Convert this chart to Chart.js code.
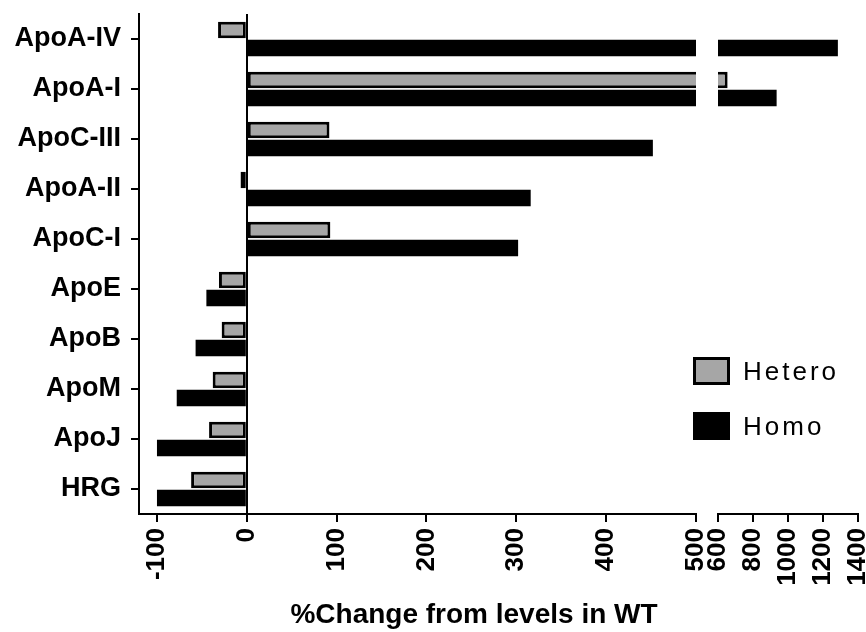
<!DOCTYPE html>
<html>
<head>
<meta charset="utf-8">
<script src="https://cdn.jsdelivr.net/npm/chart.js@4/dist/chart.umd.min.js"></script>
<style>
    body { margin: 0; background: #fff; }
    #wrap { position: relative; width: 866px; height: 632px; overflow: hidden; font-family: "Liberation Sans", Arial, sans-serif; }
    #wrap canvas { position: absolute; left: 0; top: 0; }
    #xTitle { position: absolute; left: 174px; width: 600px; top: 600px; text-align: center; font-size: 28px; line-height: 28px; font-weight: bold; }
    #legend { position: absolute; left: 693px; top: 357px; }
    .leg-item { display: flex; align-items: center; height: 28px; margin-bottom: 27px; }
    .leg-box { width: 37px; height: 28px; box-sizing: border-box; border: 3px solid #000; }
    .leg-text { margin-left: 13px; font-size: 26px; line-height: 26px; letter-spacing: 3px; }
</style>
</head>
<body>
<div id="wrap">
    <canvas id="chartLeft" width="866" height="632"></canvas>
    <canvas id="chartRight" width="866" height="632"></canvas>
    <div id="xTitle">%Change from levels in WT</div>
    <div id="legend"></div>
</div>
<script>
const categories = ['ApoA-IV', 'ApoA-I', 'ApoC-III', 'ApoA-II', 'ApoC-I', 'ApoE', 'ApoB', 'ApoM', 'ApoJ', 'HRG'];
const heteroValues = [-32, 655, 92, -7, 93, -31, -28, -38, -42, -62];
const homoValues = [1285, 935, 452, 316, 302, -45, -57, -78, -100, -100];
const leftTicks = [-100, 0, 100, 200, 300, 400, 500];
const rightTicks = [600, 800, 1000, 1200, 1400];

Chart.defaults.font.family = "'Liberation Sans', Arial, sans-serif";
Chart.defaults.color = '#000';
Chart.defaults.animation = false;

function makeDatasets(pick) {
    return [
        { label: 'Hetero', data: pick(heteroValues), backgroundColor: '#a6a6a6', borderColor: '#000', borderWidth: 3, borderSkipped: false, clip: 0 },
        { label: 'Homo', data: pick(homoValues), backgroundColor: '#000', borderColor: '#000', borderWidth: 0, clip: 0 }
    ];
}

function xScale(min, max, tickValues, zeroLine) {
    return {
        type: 'linear', min: min, max: max,
        afterBuildTicks: s => { s.ticks = tickValues.map(v => ({ value: v })); },
        afterFit: s => { s.height = 118; s.paddingLeft = 0; s.paddingRight = 0; },
        border: { color: '#000', width: 2 },
        grid: {
            drawOnChartArea: zeroLine,
            color: c => (c.tick && c.tick.value === 0) ? '#000' : 'rgba(0,0,0,0)',
            lineWidth: 2, tickColor: '#000', tickWidth: 2, tickLength: 8
        },
        ticks: {
            font: { size: 26, weight: 'bold' }, minRotation: 90, maxRotation: 90, padding: 6, autoSkip: false,
            callback: v => String(v)
        }
    };
}

function yScale(show) {
    return {
        type: 'category', display: show, offset: true,
        afterFit: s => { s.width = show ? 139 : 0; s.paddingTop = 0; s.paddingBottom = 0; },
        border: { color: '#000', width: 2 },
        grid: { offset: false, drawOnChartArea: false, color: '#000', lineWidth: 2, tickLength: 8 },
        ticks: { font: { size: 27, weight: 'bold' }, padding: 10, autoSkip: false }
    };
}

function makeChart(id, pick, x, showY, padding) {
    return new Chart(document.getElementById(id), {
        type: 'bar',
        data: { labels: categories, datasets: makeDatasets(pick) },
        options: {
            indexAxis: 'y',
            responsive: false,
            categoryPercentage: 0.72,
            barPercentage: 0.92,
            layout: { padding: padding },
            plugins: { legend: { display: false }, tooltip: { enabled: false } },
            scales: { x: x, y: yScale(showY) }
        }
    });
}

// segmento izquierdo -120..500, segmento derecho 600..1400 (eje cortado)
const chartLeft = makeChart('chartLeft', v => v, xScale(-120, 500, leftTicks, true), true,
    { left: 0, right: 170, top: 14, bottom: 0 });
const chartRight = makeChart('chartRight', v => v.map(n => n > 600 ? n : null), xScale(600, 1400, rightTicks, false), false,
    { left: 718, right: 8, top: 14, bottom: 0 });

// leyenda en HTML a partir de los datasets
const legend = document.getElementById('legend');
chartLeft.data.datasets.forEach(ds => {
    const item = document.createElement('div');
    item.className = 'leg-item';
    item.innerHTML = `<div class="leg-box" style="background:${ds.backgroundColor}"></div><span class="leg-text">${ds.label}</span>`;
    legend.appendChild(item);
});
</script>
</body>
</html>
